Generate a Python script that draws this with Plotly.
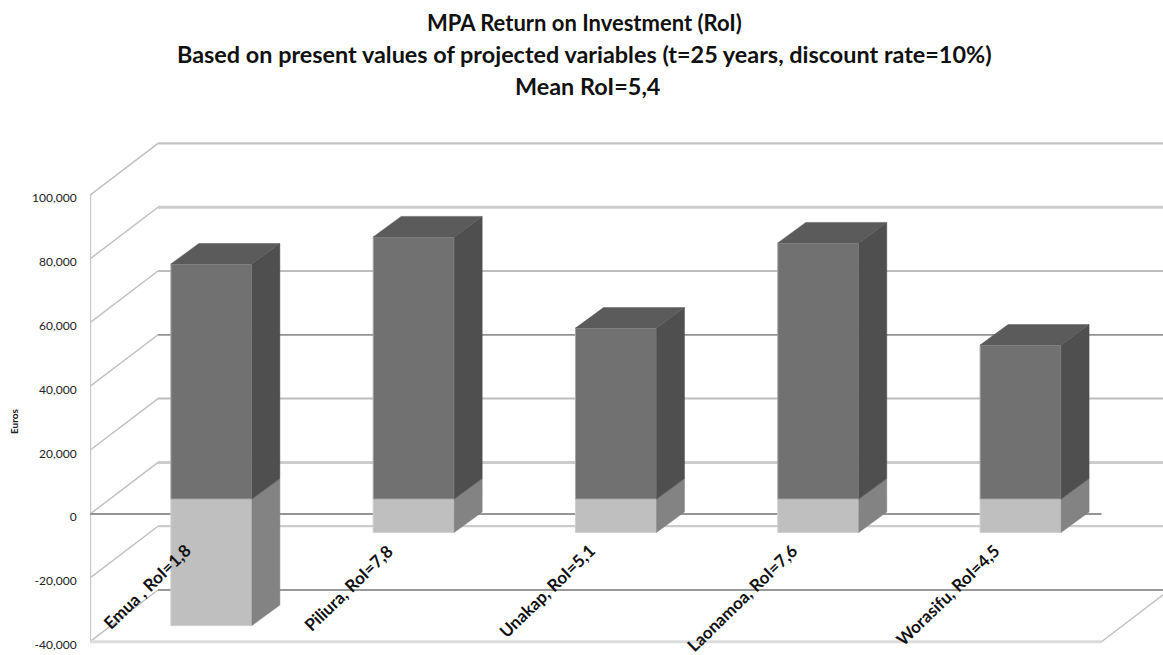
import plotly.graph_objects as go

# ---- data ----
categories = ["Emua , RoI=1,8", "Piliura, RoI=7,8", "Unakap, RoI=5,1", "Laonamoa, RoI=7,6", "Worasifu, RoI=4,5"]
benefits = [73700, 82200, 53600, 80300, 48300]
costs = [-39650, -10450, -10450, -10450, -10450]
tick_values = [100000, 80000, 60000, 40000, 20000, 0, -20000, -40000]
tick_labels = ["100,000", "80,000", "60,000", "40,000", "20,000", "0", "-20,000", "-40,000"]
title_lines = ["MPA Return on Investment (RoI)",
               "Based on present values of projected variables (t=25 years, discount rate=10%)",
               "Mean RoI=5,4"]

W, H = 1163, 655
M_L, M_R, M_T, M_B = 90, 0, 129, 5
PX_PER_CAT = 202.3
PX_PER_VAL = 0.00319
Y_FLOOR_PX = 641.7

x_lo = -0.5
x_hi = x_lo + (W - M_L - M_R) / PX_PER_CAT
y_hi = (Y_FLOOR_PX - M_T) / PX_PER_VAL - 40000
y_lo = -40000 - (H - M_B - Y_FLOOR_PX) / PX_PER_VAL

# 3-D projection offsets
WALL_DX, WALL_DY = 68 / PX_PER_CAT, 51.7 / PX_PER_VAL
BAR_DX, BAR_DY = 28 / PX_PER_CAT, 20.5 / PX_PER_VAL
BAR_SHIFT_X, BAR_SHIFT_Y = 0.1, 15 / PX_PER_VAL
BAR_W = 81 / PX_PER_CAT
X_FRONT_END = x_lo + 5

DARK_FRONT, DARK_SIDE, DARK_TOP = "#717171", "#4f4f4f", "#5b5b5b"
LIGHT_FRONT, LIGHT_SIDE = "#bfbfbf", "#838383"

centers = [i + BAR_SHIFT_X for i in range(len(categories))]
fig = go.Figure()

fig.add_trace(go.Bar(x=centers, y=costs, base=[BAR_SHIFT_Y] * 5, width=BAR_W, name="Costs",
                     marker=dict(color=LIGHT_FRONT, line=dict(color="#cfcfcf", width=1)), showlegend=False))
fig.add_trace(go.Bar(x=centers, y=benefits, base=[BAR_SHIFT_Y] * 5, width=BAR_W, name="Benefits",
                     marker=dict(color=DARK_FRONT, line=dict(color="#a8a8a8", width=1)), showlegend=False))


def face(xs, ys, color):
    fig.add_trace(go.Scatter(x=xs, y=ys, mode="lines", fill="toself", fillcolor=color,
                             line=dict(color=color, width=0.5), hoverinfo="skip", showlegend=False))


for c, b, n in zip(centers, benefits, costs):
    xr = c + BAR_W / 2
    xl = c - BAR_W / 2
    y0 = BAR_SHIFT_Y
    yt = y0 + b
    yb = y0 + n
    # lower side, upper side, top
    face([xr, xr + BAR_DX, xr + BAR_DX, xr, xr], [yb, yb + BAR_DY, y0 + BAR_DY, y0, yb], LIGHT_SIDE)
    face([xr, xr + BAR_DX, xr + BAR_DX, xr, xr], [y0, y0 + BAR_DY, yt + BAR_DY, yt, y0], DARK_SIDE)
    face([xl, xl + BAR_DX, xr + BAR_DX, xr, xl], [yt, yt + BAR_DY, yt + BAR_DY, yt, yt], DARK_TOP)

shapes = []
# back wall gridlines and side wall diagonals, per tick
grid_styles = {100000: ("#c4c4c4", 2.2), 80000: ("#cccccc", 3), 60000: ("#bdbdbd", 2),
               40000: ("#939393", 1.8), 20000: ("#bdbdbd", 2), 0: ("#cccccc", 3),
               -20000: ("#cccccc", 2.2), -40000: ("#999999", 2)}
for v in tick_values:
    col, wd = grid_styles[v]
    shapes.append(dict(type="line", xref="x", yref="y", layer="below",
                       x0=x_lo + WALL_DX, x1=x_hi, y0=v + WALL_DY, y1=v + WALL_DY,
                       line=dict(color=col, width=wd)))
    shapes.append(dict(type="line", xref="x", yref="y", layer="below",
                       x0=x_lo, x1=x_lo + WALL_DX, y0=v, y1=v + WALL_DY,
                       line=dict(color="#bfbfbf", width=1.4)))
# left axis, zero plane line, floor front edge and floor right edge
shapes.append(dict(type="line", xref="x", yref="y", layer="below", x0=x_lo, x1=x_lo,
                   y0=min(tick_values), y1=max(tick_values), line=dict(color="#c8c8c8", width=2.4)))
shapes.append(dict(type="line", xref="x", yref="y", layer="below", x0=x_lo, x1=X_FRONT_END,
                   y0=0, y1=0, line=dict(color="#959595", width=2)))
shapes.append(dict(type="line", xref="x", yref="y", layer="below", x0=x_lo, x1=X_FRONT_END,
                   y0=-40000, y1=-40000, line=dict(color="#dcdcdc", width=3)))
shapes.append(dict(type="line", xref="x", yref="y", layer="below", x0=X_FRONT_END, x1=X_FRONT_END + WALL_DX,
                   y0=-40000, y1=-40000 + WALL_DY, line=dict(color="#bfbfbf", width=1.4)))

annotations = []
plot_h = H - M_T - M_B


def paper_y(px):
    return 1 - (px - M_T) / plot_h


def paper_x(px):
    return (px - M_L) / (W - M_L - M_R)


for txt, py, px, fs in zip(title_lines, [22, 54, 86], [584.5, 584, 587], [22, 23.4, 23.4]):
    annotations.append(dict(text=f"<b>{txt}</b>", xref="paper", yref="paper", x=paper_x(px), y=paper_y(py),
                            xanchor="center", yanchor="middle", showarrow=False,
                            font=dict(family="Lato", size=fs, color="#111111")))
annotations.append(dict(text="<b>Euros</b>", xref="paper", yref="paper", x=paper_x(14), y=paper_y(421),
                        xanchor="center", yanchor="middle", textangle=-90, showarrow=False,
                        font=dict(family="Lato", size=10, color="#222222")))
LABEL_Y = (Y_FLOOR_PX - 540) / PX_PER_VAL - 40000
for i, cat in enumerate(categories):
    annotations.append(dict(text=f"<b>{cat}</b>", xref="x", yref="y", x=i + 0.02, y=LABEL_Y,
                            xanchor="right", yanchor="top", textangle=-44, showarrow=False,
                            borderpad=0, borderwidth=0,
                            font=dict(family="Lato", size=17, color="#111111")))

fig.update_layout(
    width=W, height=H, autosize=False,
    margin=dict(l=M_L, r=M_R, t=M_T, b=M_B, pad=0),
    paper_bgcolor="white", plot_bgcolor="white",
    barmode="overlay", showlegend=False,
    xaxis=dict(range=[x_lo, x_hi], visible=False, fixedrange=True),
    yaxis=dict(range=[y_lo, y_hi], tickmode="array", tickvals=tick_values, ticktext=tick_labels,
               showgrid=False, zeroline=False, showline=False, ticks="outside", ticklen=10,
               ticklabelshift=3,
               tickcolor="rgba(0,0,0,0)", tickfont=dict(family="Lato", size=12, color="#222222"), fixedrange=True),
    shapes=shapes, annotations=annotations,
)
fig.write_html("out.html", config={"displayModeBar": False},
               post_script="document.body.style.margin='0';document.body.style.overflow='hidden';")
